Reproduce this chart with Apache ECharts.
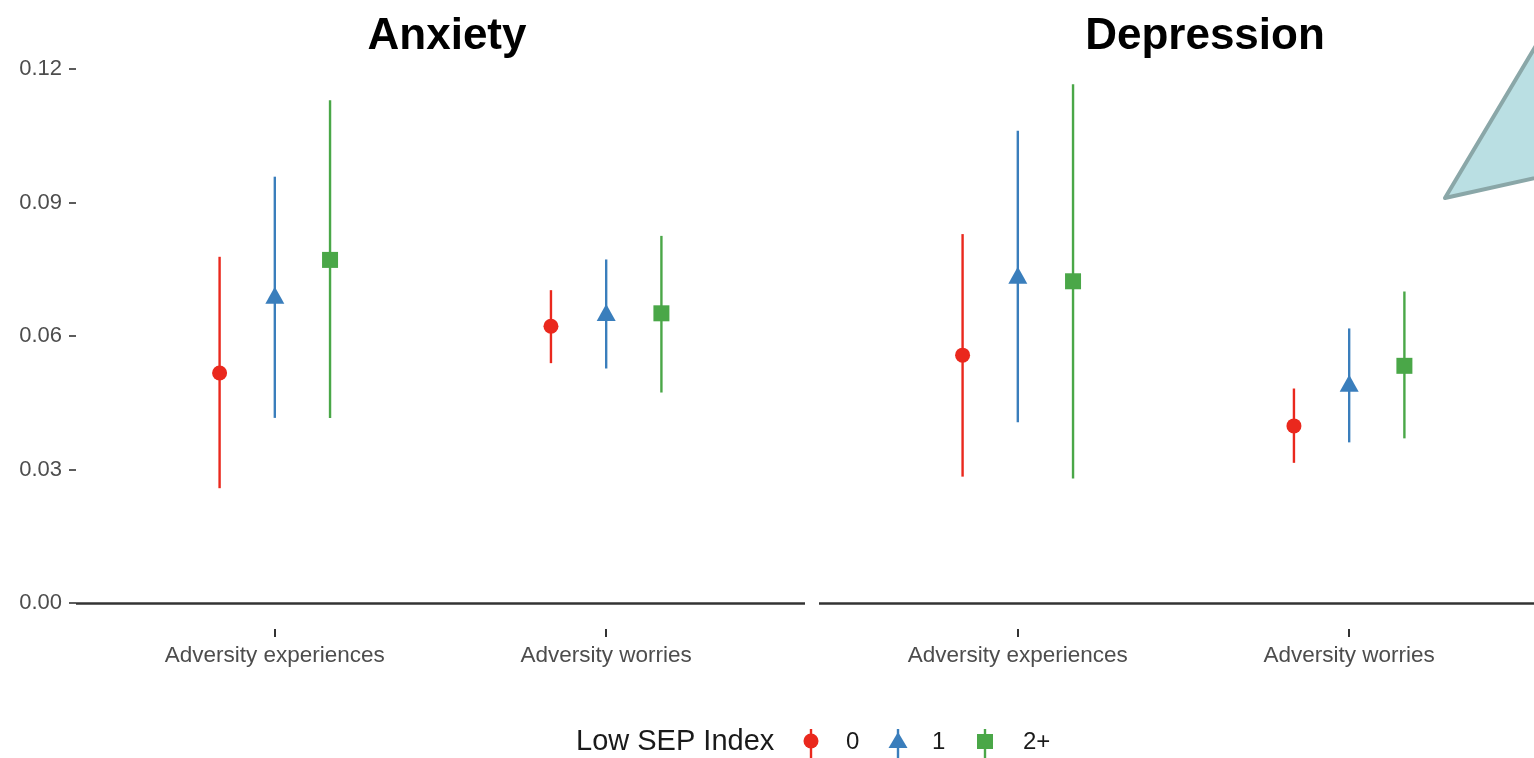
<!DOCTYPE html>
<html>
<head>
<meta charset="utf-8">
<title>Anxiety and Depression by Low SEP Index</title>
<script src="https://cdn.jsdelivr.net/npm/echarts@6/dist/echarts.min.js"></script>
<style>
  html, body { margin: 0; padding: 0; background: #ffffff; }
  #chart { width: 1534px; height: 758px; }
</style>
</head>
<body>
<div id="chart"></div>
<script>
// Outcome categories on the x axis and the Low SEP Index groups
const categories = ['Adversity experiences', 'Adversity worries'];
const sepGroups = ['0', '1', '2+'];
const yTickValues = [0, 0.03, 0.06, 0.09, 0.12];
const yTickLabels = ['0.00', '0.03', '0.06', '0.09', '0.12'];

// Estimates with lower / upper interval bounds, one row per SEP group,
// one column per category
const anxietyEstimate = [[0.0517, 0.0622], [0.0685, 0.0646], [0.0771, 0.0651]];
const anxietyLower    = [[0.0258, 0.0539], [0.0416, 0.0527], [0.0416, 0.0473]];
const anxietyUpper    = [[0.0778, 0.0703], [0.0958, 0.0772], [0.1130, 0.0825]];

const depressionEstimate = [[0.0557, 0.0398], [0.0730, 0.0487], [0.0723, 0.0533]];
const depressionLower    = [[0.0284, 0.0315], [0.0406, 0.0361], [0.0280, 0.0370]];
const depressionUpper    = [[0.0829, 0.0482], [0.1061, 0.0617], [0.1166, 0.0700]];

// Styling
const groupColors = ['#EA281D', '#3A7EBC', '#4AA748'];
const groupSymbols = ['circle', 'triangle', 'rect'];
const groupSymbolSize = [15, [19, 17], 16];
const groupSymbolOffset = [[0, 0], [0, -3], [0, 0]];
const dodge = [-1 / 6, 0, 1 / 6];
const FONT = '"Liberation Sans", Arial, Helvetica, sans-serif';

// y range padded below zero so the category ticks sit under the zero line
const Y_MIN = -0.00584;
const Y_MAX = 0.12;
// x range of each panel (the right panel runs past the page edge)
const X_RANGES = [[0.4, 2.6], [0.4, 2.5578]];

function errorBarSeries(panel, g, lower, upper) {
  const color = groupColors[g];
  return {
    type: 'custom',
    name: sepGroups[g] + ' interval',
    xAxisIndex: panel,
    yAxisIndex: panel,
    z: 2,
    silent: true,
    encode: { x: 0, y: [1, 2] },
    data: categories.map((c, i) => [i + 1 + dodge[g], lower[g][i], upper[g][i]]),
    renderItem: function (params, api) {
      const p1 = api.coord([api.value(0), api.value(1)]);
      const p2 = api.coord([api.value(0), api.value(2)]);
      return {
        type: 'line',
        shape: { x1: p1[0], y1: p1[1], x2: p2[0], y2: p2[1] },
        style: { stroke: color, lineWidth: 2.4 }
      };
    }
  };
}

function pointSeries(panel, g, estimate) {
  return {
    type: 'scatter',
    name: sepGroups[g],
    xAxisIndex: panel,
    yAxisIndex: panel,
    z: 5,
    symbol: groupSymbols[g],
    symbolSize: groupSymbolSize[g],
    symbolOffset: groupSymbolOffset[g],
    itemStyle: { color: groupColors[g], opacity: 1 },
    data: categories.map((c, i) => [i + 1 + dodge[g], estimate[g][i]])
  };
}

function zeroLineSeries(panel) {
  return {
    type: 'line',
    name: 'zero' + panel,
    xAxisIndex: panel,
    yAxisIndex: panel,
    data: [],
    silent: true,
    markLine: {
      silent: true,
      symbol: 'none',
      label: { show: false },
      lineStyle: { color: '#333333', width: 2.6, type: 'solid' },
      data: [{ yAxis: 0 }]
    }
  };
}

const series = [zeroLineSeries(0), zeroLineSeries(1)];
sepGroups.forEach((name, g) => {
  series.push(errorBarSeries(0, g, anxietyLower, anxietyUpper));
  series.push(errorBarSeries(1, g, depressionLower, depressionUpper));
});
sepGroups.forEach((name, g) => {
  series.push(pointSeries(0, g, anxietyEstimate));
  series.push(pointSeries(1, g, depressionEstimate));
});

function xAxisFor(panel) {
  return {
    type: 'value',
    gridIndex: panel,
    position: 'bottom',
    min: X_RANGES[panel][0],
    max: X_RANGES[panel][1],
    axisLine: { show: false, onZero: false },
    splitLine: { show: false },
    axisTick: {
      show: true,
      customValues: [1, 2],
      length: 8,
      lineStyle: { color: '#333333', width: 2 }
    },
    axisLabel: {
      show: true,
      customValues: [1, 2],
      margin: 15,
      formatter: (v) => categories[Math.round(v) - 1] || '',
      fontFamily: FONT,
      fontSize: 22.5,
      color: '#4D4D4D'
    }
  };
}

// Legend keys: a vertical interval bar with the group's marker on it
const legendKeyX = [811, 898, 985];
const legendTextX = [846, 932, 1023];
function legendKey(g) {
  const color = groupColors[g];
  let marker;
  if (g === 0) {
    marker = { type: 'circle', shape: { cx: 0, cy: 0, r: 7.5 }, style: { fill: color } };
  } else if (g === 1) {
    marker = { type: 'polygon', shape: { points: [[0, -9], [9.5, 7], [-9.5, 7]] }, style: { fill: color } };
  } else {
    marker = { type: 'rect', shape: { x: -8, y: -7, width: 16, height: 15 }, style: { fill: color } };
  }
  return {
    type: 'group',
    x: legendKeyX[g],
    y: 741,
    children: [
      { type: 'line', shape: { x1: 0, y1: -12, x2: 0, y2: 20 }, style: { stroke: color, lineWidth: 2.4 } },
      marker
    ]
  };
}
function legendLabel(g) {
  return {
    type: 'text',
    x: legendTextX[g],
    y: 742,
    style: {
      text: sepGroups[g],
      align: 'left', verticalAlign: 'middle',
      font: '24px ' + FONT,
      fill: '#1A1A1A'
    }
  };
}

const chart = echarts.init(document.getElementById('chart'), null, { renderer: 'canvas' });

chart.setOption({
  animation: false,
  backgroundColor: '#ffffff',
  grid: [
    { left: 76, top: 69, width: 729, height: 560 },
    { left: 819, top: 69, right: 0, height: 560 }
  ],
  xAxis: [xAxisFor(0), xAxisFor(1)],
  yAxis: [
    {
      type: 'value',
      gridIndex: 0,
      min: Y_MIN,
      max: Y_MAX,
      axisLine: { show: false, onZero: false },
      splitLine: { show: false },
      axisTick: {
        show: true,
        customValues: yTickValues,
        length: 7,
        lineStyle: { color: '#333333', width: 1.6 }
      },
      axisLabel: {
        customValues: yTickValues,
        margin: 14,
        formatter: (v) => yTickLabels[Math.round(v / 0.03)],
        fontFamily: FONT,
        fontSize: 22,
        color: '#4D4D4D'
      }
    },
    {
      type: 'value',
      gridIndex: 1,
      min: Y_MIN,
      max: Y_MAX,
      show: false
    }
  ],
  graphic: [
    {
      type: 'text',
      x: 447, y: 37,
      style: {
        text: 'Anxiety',
        align: 'center', verticalAlign: 'middle',
        font: 'bold 44px ' + FONT,
        fill: '#000000'
      }
    },
    {
      type: 'text',
      x: 1205, y: 37,
      style: {
        text: 'Depression',
        align: 'center', verticalAlign: 'middle',
        font: 'bold 44px ' + FONT,
        fill: '#000000'
      }
    },
    {
      type: 'text',
      x: 576, y: 742,
      style: {
        text: 'Low SEP Index',
        align: 'left', verticalAlign: 'middle',
        font: '29px ' + FONT,
        fill: '#1A1A1A'
      }
    },
    legendKey(0), legendKey(1), legendKey(2),
    legendLabel(0), legendLabel(1), legendLabel(2),
    {
      // callout pointer in the top-right corner
      type: 'polygon',
      shape: { points: [[1445, 198], [1562, 2], [1562, 172]] },
      style: { fill: '#BADFE3', stroke: '#8AA7A8', lineWidth: 4, lineJoin: 'round' },
      z: 100
    }
  ],
  series: series
});
</script>
</body>
</html>
